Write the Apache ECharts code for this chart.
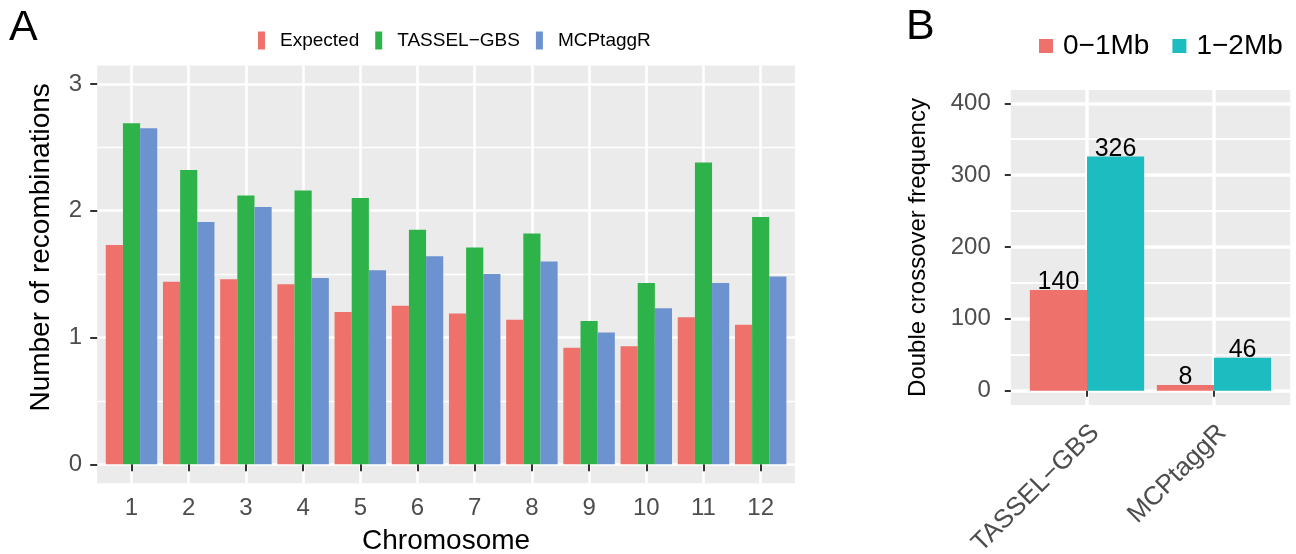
<!DOCTYPE html>
<html>
<head>
<meta charset="utf-8">
<script src="https://cdn.jsdelivr.net/npm/echarts@6/dist/echarts.min.js"></script>
<style>
html,body{margin:0;padding:0;background:#ffffff;}
#chart{width:1296px;height:554px;}
</style>
</head>
<body>
<div id="chart"></div>
<script>
// ---------- data: panel A ----------
const chromosomes = ['1','2','3','4','5','6','7','8','9','10','11','12'];
const expected   = [1.73, 1.44, 1.46, 1.42, 1.20, 1.25, 1.19, 1.14, 0.92, 0.93, 1.16, 1.10];
const tasselGBS  = [2.69, 2.32, 2.12, 2.16, 2.10, 1.85, 1.71, 1.82, 1.13, 1.43, 2.38, 1.95];
const mcptaggR   = [2.65, 1.91, 2.03, 1.47, 1.53, 1.64, 1.50, 1.60, 1.04, 1.23, 1.43, 1.48];
const yTicksA      = [0, 1, 2, 3];
const yMinorTicksA = [0.5, 1.5, 2.5];
const seriesNamesA = ['Expected', 'TASSEL\u2212GBS', 'MCPtaggR'];

// ---------- data: panel B ----------
const methods   = ['TASSEL\u2212GBS', 'MCPtaggR'];
const dco0to1Mb = [140, 8];
const dco1to2Mb = [326, 46];
const yTicksB      = [0, 100, 200, 300, 400];
const yMinorTicksB = [50, 150, 250, 350];
const seriesNamesB = ['0\u22121Mb', '1\u22122Mb'];

const FONT = "'Liberation Sans', Arial, Helvetica, sans-serif";
const GREY_TXT = '#4D4D4D';
const PANEL = '#EBEBEB';
const ROT_LABEL_SHIFT = 0.065; // nudges the rotated labels like ggplot's hjust/vjust = 1

const chromoPos = chromosomes.map((c, i) => i + 1);
const methodPos = methods.map((m, i) => i + 1);

function pairs(pos, vals) { return pos.map((p, i) => [p, vals[i]]); }

const chart = echarts.init(document.getElementById('chart'), null, {renderer: 'canvas'});

const option = {
  animation: false,
  backgroundColor: '#ffffff',
  textStyle: {fontFamily: FONT},
  title: [
    {text: 'A', left: 9, top: 7, padding: 0,
     textStyle: {fontFamily: FONT, fontSize: 43, fontWeight: 'normal', color: '#000'}},
    {text: 'B', left: 906, top: 6, padding: 0,
     textStyle: {fontFamily: FONT, fontSize: 43, fontWeight: 'normal', color: '#000'}}
  ],
  legend: [
    {
      data: seriesNamesA, left: 258, top: 31, padding: 0,
      icon: 'rect', itemWidth: 7, itemHeight: 18, itemGap: 16,
      textStyle: {fontFamily: FONT, fontSize: 19, color: '#000', padding: [0, 0, 0, 10]}
    },
    {
      data: seriesNamesB, left: 1039, top: 32, padding: 0,
      icon: 'rect', itemWidth: 14, itemHeight: 14, itemGap: 23,
      textStyle: {fontFamily: FONT, fontSize: 28, color: '#000', padding: [0, 0, 0, 5]}
    }
  ],
  grid: [
    {left: 97.2, top: 65.5, width: 697.8, height: 417.8, show: true,
     backgroundColor: PANEL, borderWidth: 0, containLabel: false, outerBoundsMode: 'none'},
    {left: 1010.8, top: 90, width: 279.4, height: 315, show: true,
     backgroundColor: PANEL, borderWidth: 0, containLabel: false, outerBoundsMode: 'none'}
  ],
  xAxis: [
    {
      type: 'value', gridIndex: 0, min: 0.4, max: 12.6,
      axisLine: {show: false},
      axisTick: {show: true, customValues: chromoPos, length: 7, lineStyle: {color: '#333', width: 2}},
      axisLabel: {show: true, customValues: chromoPos, margin: 13,
        formatter: v => chromosomes[Math.round(v) - 1],
        fontFamily: FONT, fontSize: 24, color: GREY_TXT},
      splitLine: {show: true, lineStyle: {color: '#ffffff', width: 2.6}},
      name: 'Chromosome', nameLocation: 'middle', nameGap: 44, nameMoveOverlap: false,
      nameTextStyle: {fontFamily: FONT, fontSize: 28, color: '#000'}
    },
    {
      type: 'value', gridIndex: 1, min: 0.4, max: 2.6,
      axisLine: {show: false},
      axisTick: {show: true, customValues: methodPos, length: 6, lineStyle: {color: '#333', width: 2}},
      axisLabel: {show: true, customValues: methodPos.map(p => p + ROT_LABEL_SHIFT), margin: 24, rotate: 45,
        formatter: v => methods[Math.round(v) - 1],
        fontFamily: FONT, fontSize: 26, color: GREY_TXT},
      splitLine: {show: true, lineStyle: {color: '#ffffff', width: 3.5}}
    }
  ],
  yAxis: [
    {
      type: 'value', gridIndex: 0, min: -0.15, max: 3.145,
      axisLine: {show: false},
      axisTick: {show: true, customValues: yTicksA, length: 7, lineStyle: {color: '#333', width: 2}},
      axisLabel: {show: true, customValues: yTicksA, margin: 15,
        fontFamily: FONT, fontSize: 24, color: GREY_TXT},
      splitLine: {show: true, lineStyle: {color: '#ffffff', width: 2.6}},
      name: 'Number of recombinations', nameLocation: 'middle', nameGap: 42, nameMoveOverlap: false,
      nameTextStyle: {fontFamily: FONT, fontSize: 28, color: '#000', padding: [0, 0, 0, 54]}
    },
    {
      type: 'value', gridIndex: 0, min: -0.15, max: 3.145, position: 'left',
      axisLine: {show: false},
      axisTick: {show: false, customValues: yMinorTicksA},
      axisLabel: {show: false},
      splitLine: {show: true, lineStyle: {color: '#ffffff', width: 1.3}}
    },
    {
      type: 'value', gridIndex: 1, min: -19.9, max: 418.5,
      axisLine: {show: false},
      axisTick: {show: true, customValues: yTicksB, length: 6, lineStyle: {color: '#333', width: 2}},
      axisLabel: {show: true, customValues: yTicksB, margin: 20,
        fontFamily: FONT, fontSize: 24, color: GREY_TXT},
      splitLine: {show: true, lineStyle: {color: '#ffffff', width: 3.5}},
      name: 'Double crossover frequency', nameLocation: 'middle', nameGap: 80, nameMoveOverlap: false,
      nameTextStyle: {fontFamily: FONT, fontSize: 24, color: '#000'}
    },
    {
      type: 'value', gridIndex: 1, min: -19.9, max: 418.5, position: 'left',
      axisLine: {show: false},
      axisTick: {show: false, customValues: yMinorTicksB},
      axisLabel: {show: false},
      splitLine: {show: true, lineStyle: {color: '#ffffff', width: 1.8}}
    }
  ],
  series: [
    {name: seriesNamesA[0], type: 'bar', xAxisIndex: 0, yAxisIndex: 0,
     barWidth: '30%', barGap: '0%', itemStyle: {color: '#EF716B'},
     data: pairs(chromoPos, expected)},
    {name: seriesNamesA[1], type: 'bar', xAxisIndex: 0, yAxisIndex: 0,
     barWidth: '30%', barGap: '0%', itemStyle: {color: '#2EB34A'},
     data: pairs(chromoPos, tasselGBS)},
    {name: seriesNamesA[2], type: 'bar', xAxisIndex: 0, yAxisIndex: 0,
     barWidth: '30%', barGap: '0%', itemStyle: {color: '#6C93CF'},
     data: pairs(chromoPos, mcptaggR)},
    {name: seriesNamesB[0], type: 'bar', xAxisIndex: 1, yAxisIndex: 2,
     barWidth: '45%', barGap: '0%', itemStyle: {color: '#EF716B'},
     label: {show: true, position: 'top', distance: -5, fontFamily: FONT, fontSize: 25, color: '#000'},
     data: pairs(methodPos, dco0to1Mb)},
    {name: seriesNamesB[1], type: 'bar', xAxisIndex: 1, yAxisIndex: 2,
     barWidth: '45%', barGap: '0%', itemStyle: {color: '#1DBCC0'},
     label: {show: true, position: 'top', distance: -5, fontFamily: FONT, fontSize: 25, color: '#000'},
     data: pairs(methodPos, dco1to2Mb)}
  ]
};
chart.setOption(option);
</script>
</body>
</html>
